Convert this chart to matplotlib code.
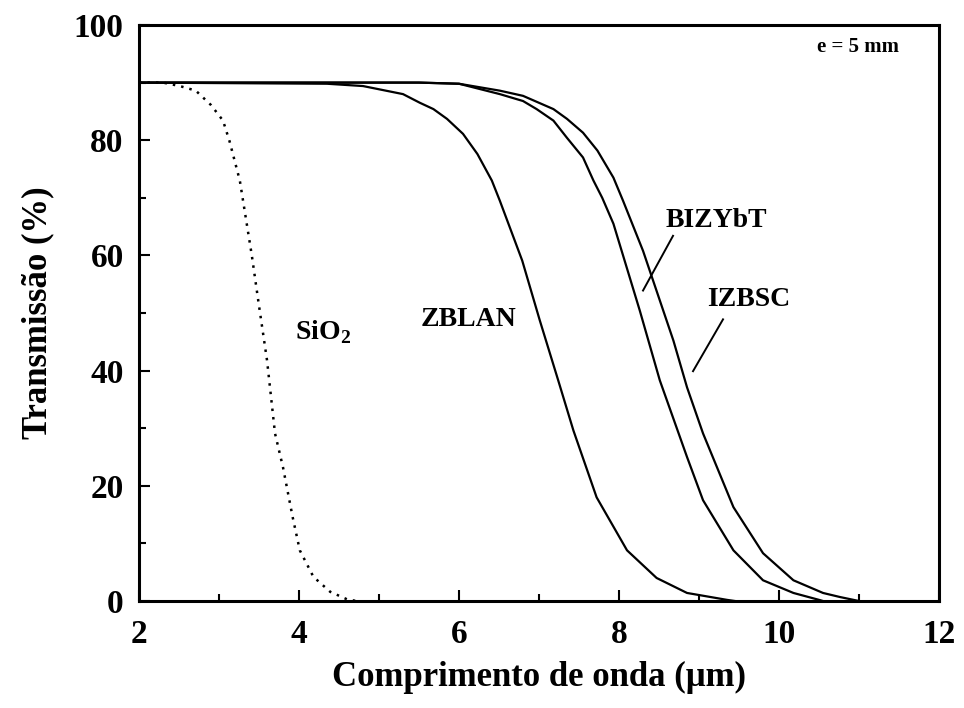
import matplotlib
matplotlib.use("Agg")
import matplotlib.pyplot as plt
from matplotlib.ticker import MultipleLocator

plt.rcParams['font.family'] = ['Liberation Serif', 'DejaVu Serif']
plt.rcParams['font.weight'] = 'bold'
plt.rcParams['mathtext.fontset'] = 'custom'
plt.rcParams['mathtext.rm'] = 'Liberation Serif:bold'
plt.rcParams['mathtext.bf'] = 'Liberation Serif:bold'

# Transmission spectra (wavelength in um, transmission in %)
sio2_x = [2.0, 2.3, 2.51, 2.71, 2.9, 3.05, 3.13, 3.26, 3.41, 3.49, 3.6, 3.7,
          3.8, 3.92, 4.01, 4.18, 4.39, 4.6, 4.72]
sio2_y = [90, 90, 89.4, 88.6, 86.1, 83.4, 79.9, 73, 60, 52.2, 41.8, 29.1,
          23.2, 14.6, 8.8, 4.2, 1.6, 0.3, 0]

zblan_x = [2.0, 4.35, 4.8, 5.3, 5.51, 5.68, 5.85, 6.05, 6.23, 6.41, 6.51,
           6.79, 7.01, 7.24, 7.43, 7.72, 8.1, 8.47, 8.85, 9.35, 9.45]
zblan_y = [90, 89.8, 89.4, 88, 86.5, 85.4, 83.7, 81.1, 77.6, 73, 69.5,
           59.1, 48.7, 38.3, 29.6, 18, 8.8, 4, 1.4, 0.2, 0]

bizybt_x = [2.0, 5.5, 6.0, 6.51, 6.8, 6.97, 7.18, 7.35, 7.55, 7.68, 7.79,
            7.93, 8.26, 8.51, 8.85, 9.05, 9.43, 9.8, 10.18, 10.5, 10.55]
bizybt_y = [90, 90, 89.8, 88, 86.8, 85.4, 83.4, 80.4, 77, 73, 70,
            65.5, 50.4, 38.3, 25, 17.5, 8.8, 3.6, 1.4, 0.2, 0]

izbsc_x = [2.0, 5.5, 6.0, 6.51, 6.8, 7.18, 7.35, 7.55, 7.73, 7.93, 8.05,
           8.3, 8.68, 8.85, 9.05, 9.43, 9.8, 10.18, 10.55, 10.76, 11.0]
izbsc_y = [90, 90, 89.8, 88.6, 87.7, 85.4, 83.7, 81.3, 78.2, 73.5, 69.5,
           60.8, 45.2, 37.1, 29.1, 16.3, 8.3, 3.6, 1.4, 0.7, 0]

x_ticks = [2, 4, 6, 8, 10, 12]
y_ticks = [0, 20, 40, 60, 80, 100]

fig = plt.figure(figsize=(9.64, 7.08), dpi=100)
ax = fig.add_axes([0.1442, 0.1511, 0.8299, 0.8136])

lw = 1.6
ax.plot(sio2_x, sio2_y, color='black', lw=1.8, linestyle=(0, (1, 2.4)))
ax.plot(zblan_x, zblan_y, color='black', lw=lw)
ax.plot(bizybt_x, bizybt_y, color='black', lw=lw)
ax.plot(izbsc_x, izbsc_y, color='black', lw=lw)

# leader lines for the curve labels
ax.plot([8.675, 8.30], [63.4, 53.9], color='black', lw=1.4)
ax.plot([9.30, 8.925], [48.9, 39.9], color='black', lw=1.4)

ax.text(9.21, 66.0, 'BIZYbT', fontsize=20, fontweight='bold', ha='center', va='center')
ax.text(9.62, 52.4, 'IZBSC', fontsize=20, fontweight='bold', ha='center', va='center')
ax.text(6.12, 48.9, 'ZBLAN', fontsize=20, fontweight='bold', ha='center', va='center')
ax.text(3.95, 45.4, r'SiO$_{2}$', fontsize=20, fontweight='bold', ha='left', va='baseline')
ax.text(10.47, 96.2, 'e = 5 mm', fontsize=15, fontweight='bold', ha='left', va='center')

ax.set_xlim(2, 12)
ax.set_ylim(0, 100)
ax.set_xticks(x_ticks)
ax.set_yticks(y_ticks)
ax.xaxis.set_minor_locator(MultipleLocator(1))
ax.yaxis.set_minor_locator(MultipleLocator(10))

ax.tick_params(which='both', direction='in', top=False, right=False, width=1.5)
ax.tick_params(which='major', length=8)
ax.tick_params(which='minor', length=5)
ax.tick_params(axis='x', which='major', labelsize=24, pad=13)
ax.tick_params(axis='y', which='major', labelsize=24, pad=11)
for lab in ax.get_xticklabels() + ax.get_yticklabels():
    lab.set_fontweight('bold')

for sp in ax.spines.values():
    sp.set_linewidth(2.2)

ax.set_xlabel('Comprimento de onda (\u03bcm)', fontsize=25, fontweight='bold', labelpad=8)
ax.set_ylabel('Transmiss\u00e3o (%)', fontsize=25, fontweight='bold', labelpad=14)

fig.savefig('out.png', dpi=100)
